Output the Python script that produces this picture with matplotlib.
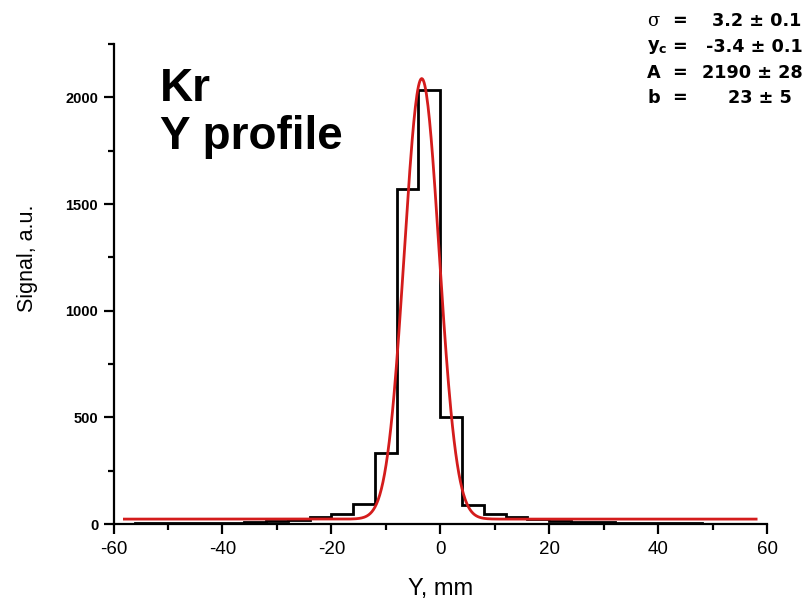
import numpy as np
import matplotlib as mpl
mpl.use("Agg")
import matplotlib.pyplot as plt
from matplotlib.ticker import MultipleLocator

plt.rcParams["axes.unicode_minus"] = False
plt.rcParams["mathtext.fontset"] = "dejavusans"

# histogram of the Kr beam, Y profile
bin_edges = [-58, -56, -52, -48, -44, -40, -36, -32, -28, -24, -20, -16, -12, -8, -4,
             0, 4, 8, 12, 16, 20, 24, 28, 32, 36, 40, 44, 48, 52, 56, 58]
signal = [2, 3, 3, 4, 5, 6, 8, 12, 19, 31, 45, 94, 331, 1572, 2036,
          503, 89, 45, 31, 23, 14, 11, 8, 6, 4, 3, 3, 2, 2, 2]

# gauss fit parameters (as printed on the plot), peak height
sigma = 3.2
y_c = -3.4
b = 23
peak = 2065
fit_labels = ["σ", "y_c", "A", "b"]
fit_values = ["3.2 ± 0.1", "-3.4 ± 0.1", "2190 ± 28", "23 ± 5"]

fig = plt.figure(figsize=(8.05, 5.99), dpi=100)
ax = fig.add_axes([113.5/805, 1-524/599, (767-113.5)/805, (524-44)/599])

# step histogram
ax.stairs(signal, bin_edges, color="k", linewidth=2.0)

# fit curve
xf = np.linspace(bin_edges[0], bin_edges[-1], 800)
yf = b + peak*np.exp(-(xf-y_c)**2/(2*sigma**2))
ax.plot(xf, yf, color="#d41c1c", linewidth=2.0)

ax.set_xlim(-60, 60)
ax.set_ylim(0, 2250)
ax.xaxis.set_major_locator(MultipleLocator(20))
ax.xaxis.set_minor_locator(MultipleLocator(10))
ax.yaxis.set_major_locator(MultipleLocator(500))
ax.yaxis.set_minor_locator(MultipleLocator(250))

for s in ["top", "right"]:
    ax.spines[s].set_visible(False)
for s in ["left", "bottom"]:
    ax.spines[s].set_linewidth(1.6)
ax.tick_params(which="major", direction="out", length=7, width=1.6)
ax.tick_params(which="minor", direction="out", length=4, width=1.6)
ax.tick_params(axis="x", labelsize=13.5, pad=5)
ax.tick_params(axis="y", labelsize=10.5, pad=4)
for t in ax.get_xticklabels():
    t.set_fontfamily("Liberation Sans")
for t in ax.get_yticklabels():
    t.set_fontfamily("Liberation Sans")
    t.set_fontweight("bold")

ax.set_xlabel("Y, mm", fontsize=17, family="Liberation Sans")
ax.set_ylabel("Signal, a.u.", fontsize=15.5, family="Liberation Sans")
ax.xaxis.set_label_coords(0.5, (524-589)/480, transform=ax.transAxes)
ax.yaxis.set_label_coords((28-113.5)/653.5, (524-258)/480, transform=ax.transAxes)
ax.xaxis.label.set_va("center")
ax.yaxis.label.set_va("center")

# big title inside the axes
fig.text(160/805, 1-100.7/599, "Kr", fontsize=33, fontweight="bold",
         family="Liberation Sans", va="baseline")
fig.text(160/805, 1-149/599, "Y profile", fontsize=33, fontweight="bold",
         family="Liberation Sans", va="baseline")

# fit results box, top right
rows_y = [20.7, 47, 73.3, 98]
val_x = [712, 706, 702, 728]
for i in range(4):
    yy = 1-rows_y[i]/599
    lab = fit_labels[i]
    if lab == "σ":
        fig.text(647/805, yy, lab, fontsize=13, family="DejaVu Serif", va="center")
    elif lab == "y_c":
        fig.text(647/805, yy, r"$\mathbf{y}_{\mathbf{c}}$", fontsize=13, va="center")
    else:
        fig.text(647/805, yy, lab, fontsize=12.7, fontweight="bold", family="DejaVu Sans", va="center")
    fig.text(679/805, yy, "=", fontsize=12.7, fontweight="bold", family="DejaVu Sans",
             va="center", ha="center")
    fig.text(val_x[i]/805, yy, fit_values[i], fontsize=12.7, fontweight="bold",
             family="DejaVu Sans", va="center")

fig.savefig("out.png", dpi=100)
